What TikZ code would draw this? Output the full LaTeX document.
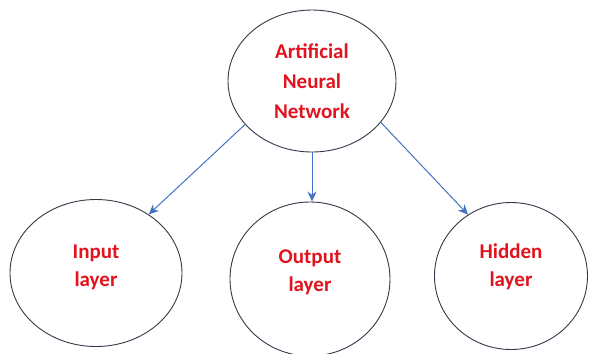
\documentclass[tikz,border=0pt]{standalone}
\usepackage{fontspec}
\setmainfont{Carlito}
\usetikzlibrary{shapes.geometric,arrows.meta}
\definecolor{txtred}{RGB}{225,20,30}
\definecolor{edge}{RGB}{55,55,75}
\definecolor{arr}{RGB}{68,114,196}
\tikzset{
  bubble/.style={ellipse, draw=edge, line width=0.9pt, fill=white, inner sep=0pt,
    font=\bfseries\fontsize{21}{28}\selectfont, text=txtred, align=center},
  link/.style={draw=arr, line width=1pt, -{Stealth[length=10pt,width=9pt]}}
}
\begin{document}
\begin{tikzpicture}[x=1pt,y=-1pt]
\useasboundingbox (0,0) rectangle (590,354);
\node[bubble, font=\bfseries\fontsize{21}{30}\selectfont, minimum width=168pt, minimum height=142pt] (ann) at (312,81) {Artificial\\Neural\\Network};
\node[bubble, text depth=15pt, minimum width=172pt, minimum height=147pt] (in) at (96,273) {Input\\layer};
\node[bubble, text depth=17pt, minimum width=160pt, minimum height=154pt] (out) at (310,279) {Output\\layer};
\node[bubble, text depth=21pt, minimum width=153pt, minimum height=147pt] (hid) at (511,276) {Hidden\\layer};
\draw[link] (ann.213) -- (in.48);
\draw[link] (ann.south) -- (ann.south |- out.north);
\draw[link] (ann.329) -- (hid.125);
\end{tikzpicture}
\end{document}
